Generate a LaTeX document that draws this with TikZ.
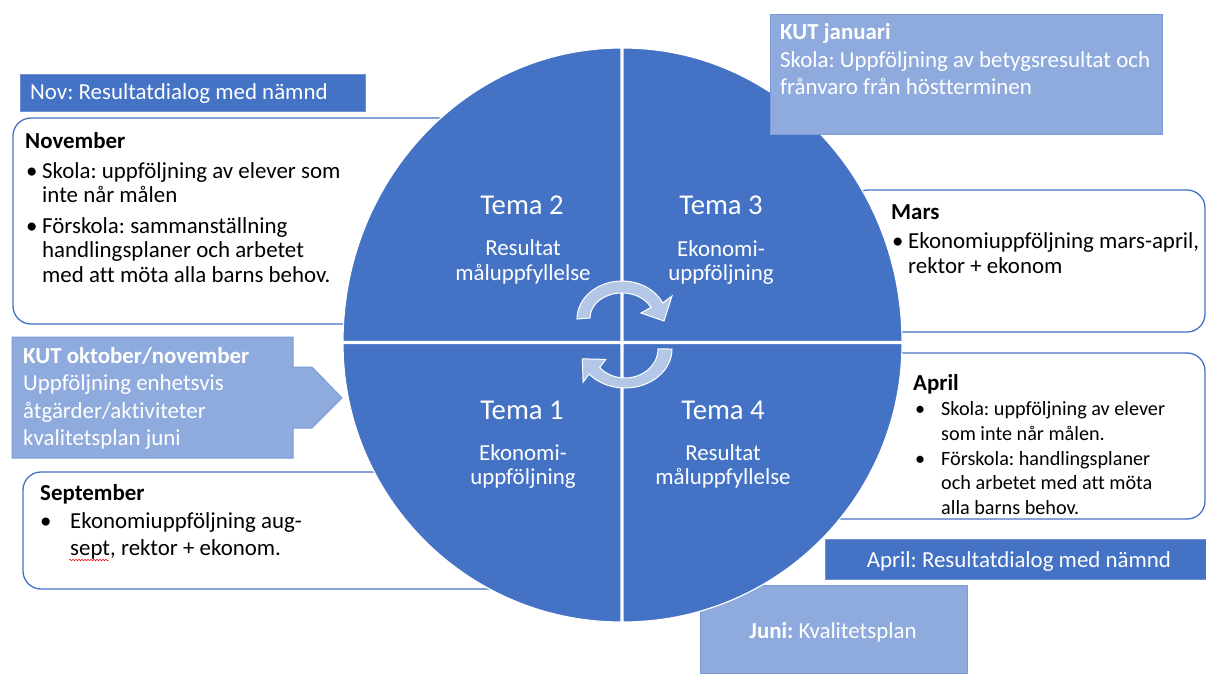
\documentclass[tikz,border=0pt]{standalone}
\usepackage{fontspec}
\setmainfont{Carlito}[Ligatures={NoCommon}]
\frenchspacing
\usetikzlibrary{decorations.pathmorphing}
\definecolor{dblue}{HTML}{4472C4}
\definecolor{lblue}{HTML}{8FAADC}
\definecolor{arrc}{HTML}{B4C7E7}
\definecolor{dedge}{HTML}{6F8FD0}
\definecolor{ledge}{HTML}{7C9BD6}
\begin{document}
\begin{tikzpicture}[x=1pt,y=-1pt,
  t/.style={anchor=base west,inner sep=0pt,font=\fontsize{22.9}{24}\selectfont},
  tb/.style={anchor=base west,inner sep=0pt,font=\fontsize{22.9}{24}\selectfont\bfseries},
  ts/.style={anchor=base west,inner sep=0pt,font=\fontsize{20.2}{24}\selectfont},
  wt/.style={text=white},
  tema/.style={anchor=base,inner sep=0pt,text=white,font=\fontsize{28.7}{30}\selectfont},
  sub/.style={anchor=base,inner sep=0pt,text=white,font=\fontsize{22.9}{24}\selectfont},
  rbox/.style={draw=dblue,line width=1.3pt,fill=white,rounded corners=18pt},
  dbox/.style={fill=dblue,draw=dedge,line width=1pt},
  lbox/.style={fill=lblue,draw=ledge,line width=1pt},
  quad/.style={fill=dblue,draw=white,line width=1.2pt},
  carr/.style={fill=arrc,draw=white,line width=1pt}]
\useasboundingbox (0,0) rectangle (1206,673);
\fill[white] (0,0) rectangle (1206,673);

% rounded boxes behind the circle
\path[rbox] (13,118) rectangle (500,324);
\path[rbox] (23,472) rectangle (520,589);
\path[rbox] (850,190) rectangle (1205,332);
\path[rbox] (800,353) rectangle (1205,519);

% plain boxes
\path[dbox] (20,74) rectangle (365,111);
\path[dbox] (825,539) rectangle (1206,579);
\path[lbox] (700,585) rectangle (967,673);
\path[lbox] (12,337) -- (293,337) -- (293,367) -- (312,367) -- (342,398) -- (312,428) -- (293,428) -- (293,458) -- (12,458) -- cycle;

% circle quadrants
\path[quad] (621,341.5) -- (343,341.5) arc[start angle=180,end angle=270,x radius=278,y radius=293.5] -- cycle;
\path[quad] (623,341.5) -- (623,48) arc[start angle=270,end angle=360,x radius=279,y radius=293.5] -- cycle;
\path[quad] (623,343.5) -- (902,343.5) arc[start angle=0,end angle=90,x radius=279,y radius=278.5] -- cycle;
\path[quad] (621,343.5) -- (621,622) arc[start angle=90,end angle=180,x radius=278,y radius=278.5] -- cycle;

% KUT januari box on top
\path[lbox] (770,14) rectangle (1162,134);

% circular arrows
\path[carr] (577,319) arc[start angle=180,end angle=335,x radius=45,y radius=38]
  -- (672,296) -- (664,321) -- (641,313) -- (651.0,307.4)
  arc[start angle=335,end angle=180,x radius=32,y radius=25] -- cycle;
\path[carr] (672,349) arc[start angle=0,end angle=140,x radius=47,y radius=39]
  -- (583.1,382.2) -- (582.3,358.8) -- (605.7,359.4) -- (599.7,367.6)
  arc[start angle=140,end angle=0,x radius=33,y radius=29] -- cycle;

% texts
\node[t,wt] (nov) at (30,99) {Nov: Resultatdialog med nämnd};

\node[tb] (novh) at (25,148) {November};
\node[t] (novb1) at (26,178) {•};
\node[t] (nov1) at (42,178) {Skola: uppföljning av elever som};
\node[t] (nov2) at (42,202) {inte når målen};
\node[t] (novb2) at (26,233) {•};
\node[t] (nov3) at (42,233) {Förskola: sammanställning};
\node[t] (nov4) at (42,257) {handlingsplaner och arbetet};
\node[t] (nov5) at (42,282) {med att möta alla barns behov.};

\node[tb,wt] (kuth) at (23,363) {KUT oktober/november};
\node[t,wt] (kut1) at (23,390) {Uppföljning enhetsvis};
\node[t,wt] (kut2) at (23,418) {åtgärder/aktiviteter};
\node[t,wt] (kut3) at (23,445) {kvalitetsplan juni};

\node[tb] (seph) at (40,500) {September};
\node[t] (sepb) at (40,528) {•};
\node[t] (sep1) at (70,528) {Ekonomiuppföljning aug-};
\node[t] (sep2) at (70,555) {sept, rektor + ekonom.};
\draw[red,line width=0.5pt,decorate,decoration={snake,amplitude=0.8pt,segment length=3pt}] (69,560) -- (109,560);

\node[tb,wt] (janh) at (780,39) {KUT januari};
\node[t,wt] (jan1) at (780,67) {Skola: Uppföljning av betygsresultat och};
\node[t,wt] (jan2) at (780,94) {frånvaro från höstterminen};

\node[tb] (marh) at (891,219) {Mars};
\node[t] (marb) at (892,248) {•};
\node[t] (mar1) at (908,248) {Ekonomiuppföljning mars-april,};
\node[t] (mar2) at (908,273) {rektor + ekonom};

\node[tb] (aprh) at (913,390) {April};
\node[ts] (aprb1) at (915,415) {•};
\node[ts] (apr1) at (941,415) {Skola: uppföljning av elever};
\node[ts] (apr2) at (941,440) {som inte når målen.};
\node[ts] (aprb2) at (915,465) {•};
\node[ts] (apr3) at (941,465) {Förskola: handlingsplaner};
\node[ts] (apr4) at (941,489) {och arbetet med att möta};
\node[ts] (apr5) at (941,514) {alla barns behov.};

\node[sub] (aprd) at (1019,567) {April: Resultatdialog med nämnd};
\node[sub] (juni) at (833,638) {\bfseries Juni:\mdseries{} Kvalitetsplan};

\node[tema] (t2) at (522,214) {Tema 2};
\node[sub] (t2a) at (523,255) {Resultat};
\node[sub] (t2b) at (523,280) {måluppfyllelse};
\node[tema] (t3) at (721,214) {Tema 3};
\node[sub] (t3a) at (721,256) {Ekonomi-};
\node[sub] (t3b) at (721,280) {uppföljning};
\node[tema] (t1) at (522,419) {Tema 1};
\node[sub] (t1a) at (523,460) {Ekonomi-};
\node[sub] (t1b) at (523,484) {uppföljning};
\node[tema] (t4) at (723,419) {Tema 4};
\node[sub] (t4a) at (723,460) {Resultat};
\node[sub] (t4b) at (723,484) {måluppfyllelse};
\end{tikzpicture}
\end{document}
